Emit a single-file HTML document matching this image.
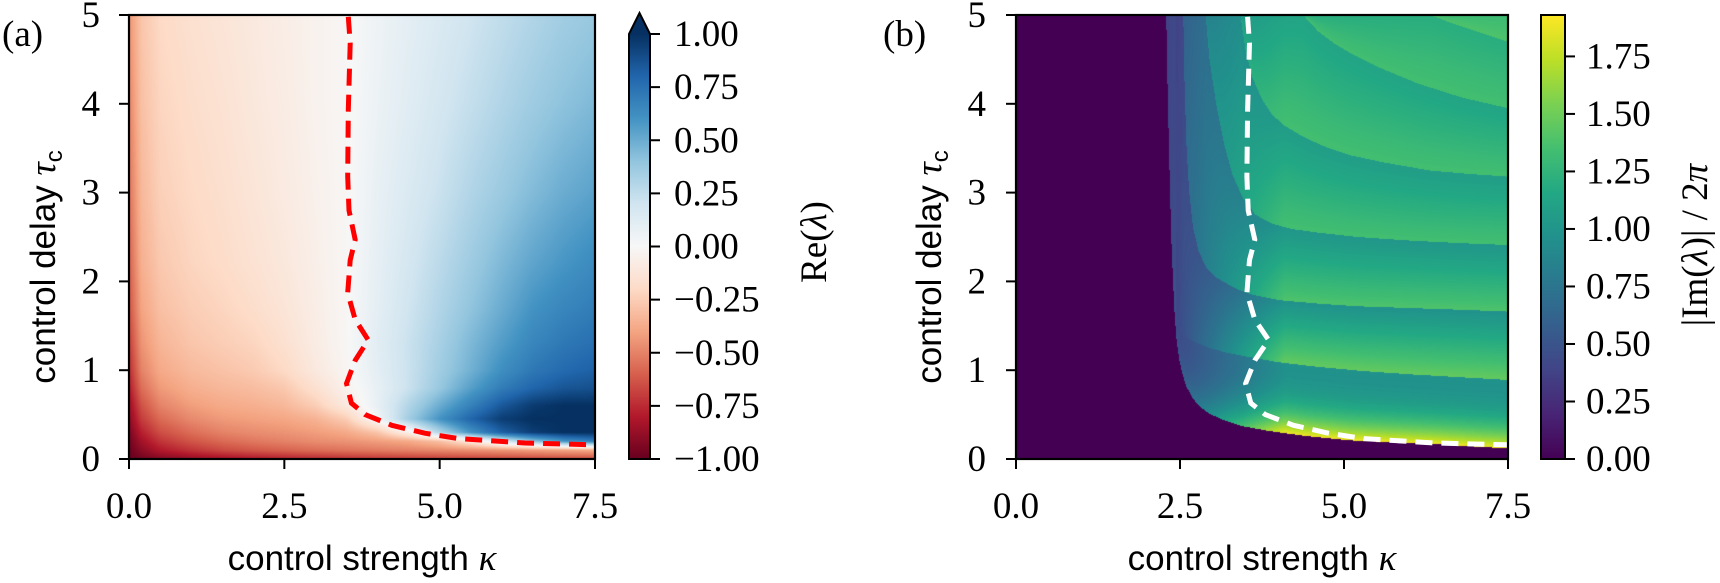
<!DOCTYPE html>
<html><head><meta charset="utf-8">
<style>
html,body{margin:0;padding:0;background:#fff;width:1720px;height:583px;overflow:hidden;position:relative}
canvas{position:absolute;display:block}
svg{position:absolute;left:0;top:0}
text{font-family:"Liberation Serif",serif;font-size:37px;fill:#000}
.sans{font-family:"Liberation Sans",sans-serif;font-size:35px}
</style></head>
<body>
<canvas id="heatA" width="466" height="444" style="left:129px;top:15px"></canvas>
<canvas id="heatB" width="492" height="444" style="left:1016px;top:15px"></canvas>
<svg id="ov" width="1720" height="583">
<defs>
<linearGradient id="gRdBu" x1="0" y1="1" x2="0" y2="0">
<stop offset="0" stop-color="#67001f"/><stop offset="0.1" stop-color="#b2182b"/><stop offset="0.2" stop-color="#d6604d"/><stop offset="0.3" stop-color="#f4a582"/><stop offset="0.4" stop-color="#fddbc7"/><stop offset="0.5" stop-color="#f7f7f7"/><stop offset="0.6" stop-color="#d1e5f0"/><stop offset="0.7" stop-color="#92c5de"/><stop offset="0.8" stop-color="#4393c3"/><stop offset="0.9" stop-color="#2166ac"/><stop offset="1" stop-color="#053061"/>
</linearGradient>
<linearGradient id="gVir" x1="0" y1="1" x2="0" y2="0">
<stop offset="0" stop-color="#440154"/><stop offset="0.1" stop-color="#482475"/><stop offset="0.2" stop-color="#414487"/><stop offset="0.3" stop-color="#355f8d"/><stop offset="0.4" stop-color="#2a788e"/><stop offset="0.5" stop-color="#21918c"/><stop offset="0.6" stop-color="#22a884"/><stop offset="0.7" stop-color="#44bf70"/><stop offset="0.8" stop-color="#7ad151"/><stop offset="0.9" stop-color="#bddf26"/><stop offset="1" stop-color="#fde725"/>
</linearGradient>
</defs>
<g id="gA"></g>
<g id="gB"></g>
</svg>
<script>
// ---------- shared data ----------
const xTicks = [0, 2.5, 5, 7.5];
const xTickLabels = ["0.0", "2.5", "5.0", "7.5"];
const yTicks = [0, 1, 2, 3, 4, 5];
const yTickLabels = ["0", "1", "2", "3", "4", "5"];
const boundaryKappa = [3.53,3.56,3.53,3.52,3.54,3.64,3.56,3.52,3.64,3.85,3.64,3.50,3.58,3.80,4.23,4.76,5.30,6.37,7.50];
const boundaryTau   = [4.98,4.68,3.93,3.18,2.80,2.47,2.24,1.87,1.57,1.34,1.11,0.85,0.63,0.50,0.38,0.29,0.23,0.18,0.16];

// ---------- panel (a) data: Re(lambda) grid ----------
const gridKappa = [0,0.2,0.5,1,1.5,2,2.5,3,3.5,4,4.5,5,5.5,6,6.5,7,7.5];
const gridTau = [0,0.1,0.2,0.3,0.45,0.6,0.8,1.0,1.3,1.7,2.2,3,4,5];
const reRow0   = [-1,-0.97,-0.93,-0.88,-0.84,-0.81,-0.78,-0.76,-0.74,-0.72,-0.71,-0.7,-0.69,-0.68,-0.67,-0.66,-0.66];
const reRow1   = [-0.99,-0.9,-0.8,-0.72,-0.66,-0.62,-0.59,-0.56,-0.54,-0.52,-0.5,-0.48,-0.46,-0.44,-0.42,-0.4,-0.38];
const reRow2   = [-0.97,-0.84,-0.72,-0.63,-0.57,-0.53,-0.5,-0.47,-0.45,-0.42,-0.38,-0.3,-0.12,0.15,0.4,0.6,0.7];
const reRow3   = [-0.95,-0.78,-0.65,-0.56,-0.5,-0.47,-0.45,-0.42,-0.38,-0.28,-0.05,0.3,0.6,0.82,0.95,1.0,1.0];
const reRow4   = [-0.9,-0.7,-0.57,-0.48,-0.43,-0.41,-0.39,-0.35,-0.25,0.03,0.35,0.6,0.8,0.95,1.0,1.0,1.0];
const reRow5   = [-0.86,-0.64,-0.5,-0.42,-0.38,-0.36,-0.33,-0.25,-0.1,0.08,0.3,0.5,0.68,0.85,0.96,1.0,1.0];
const reRow6   = [-0.8,-0.56,-0.43,-0.36,-0.33,-0.31,-0.27,-0.16,-0.04,0.08,0.22,0.38,0.55,0.7,0.8,0.86,0.88];
const reRow7   = [-0.75,-0.5,-0.38,-0.32,-0.29,-0.26,-0.2,-0.1,-0.02,0.1,0.22,0.35,0.48,0.62,0.72,0.78,0.82];
const reRow8   = [-0.7,-0.45,-0.34,-0.28,-0.25,-0.22,-0.16,-0.08,-0.01,0.11,0.22,0.33,0.45,0.56,0.66,0.72,0.76];
const reRow9   = [-0.64,-0.4,-0.3,-0.25,-0.22,-0.18,-0.13,-0.07,-0.01,0.1,0.2,0.3,0.4,0.5,0.6,0.66,0.7];
const reRow10  = [-0.6,-0.36,-0.27,-0.22,-0.19,-0.15,-0.11,-0.06,-0.01,0.09,0.18,0.27,0.36,0.45,0.53,0.59,0.64];
const reRow11  = [-0.55,-0.33,-0.24,-0.2,-0.17,-0.13,-0.09,-0.05,-0.01,0.08,0.15,0.22,0.3,0.37,0.44,0.5,0.54];
const reRow12  = [-0.5,-0.3,-0.22,-0.18,-0.15,-0.11,-0.08,-0.04,-0.01,0.06,0.12,0.18,0.24,0.3,0.36,0.41,0.45];
const reRow13  = [-0.45,-0.28,-0.2,-0.16,-0.13,-0.1,-0.07,-0.04,-0.01,0.05,0.1,0.15,0.2,0.25,0.3,0.35,0.38];
const cbarATicks = [-1,-0.75,-0.5,-0.25,0,0.25,0.5,0.75,1];
const cbarATickLabels = ["\u22121.00","\u22120.75","\u22120.50","\u22120.25","0.00","0.25","0.50","0.75","1.00"];

// ---------- panel (b) data: band edges of |Im(lambda)|/2pi ----------
const outerK = [2.29,2.31,2.33,2.35,2.37,2.40,2.42,2.45,2.49,2.54,2.60,2.70,2.80,2.95,3.16,3.45,3.82,4.4,5.09,5.7,6.36,7.0,7.5];
const outerT = [5.0,4.2,3.56,2.95,2.43,1.9,1.6,1.32,1.11,0.95,0.81,0.68,0.59,0.51,0.44,0.37,0.32,0.26,0.21,0.19,0.17,0.14,0.12];
const edge1K = [2.44,2.46,2.5,2.6,2.75,2.95,3.2,3.54,4.0,4.57,5.3,6.09,6.8,7.5];
const edge1T = [1.9,1.6,1.45,1.37,1.31,1.25,1.2,1.15,1.09,1.04,0.99,0.95,0.92,0.89];
const edge2K = [2.55,2.57,2.60,2.64,2.70,2.78,2.9,3.02,3.15,3.35,3.6,4.0,4.6,5.2,6,6.8,7.5];
const edge2T = [5.0,4.2,3.5,3.0,2.6,2.35,2.15,2.06,2.0,1.92,1.85,1.79,1.75,1.72,1.70,1.68,1.66];
const edge3K = [2.89,2.95,3.05,3.17,3.3,3.45,3.65,3.9,4.2,4.6,5.2,6,6.8,7.5];
const edge3T = [5.0,4.5,4.0,3.55,3.2,2.95,2.75,2.65,2.59,2.55,2.50,2.46,2.43,2.41];
const edge4K = [3.42,3.5,3.6,3.75,3.9,4.1,4.4,4.7,5.1,5.6,6.3,6.9,7.5];
const edge4T = [5.0,4.6,4.3,4.05,3.88,3.75,3.62,3.52,3.42,3.34,3.25,3.21,3.18];
const edge5K = [4.38,4.6,4.85,5.1,5.5,6.12,6.8,7.5];
const edge5T = [5.0,4.82,4.68,4.57,4.42,4.23,4.07,3.95];
const edge6K = [6.32,6.6,6.89,7.2,7.5];
const edge6T = [5.0,4.92,4.85,4.77,4.70];
const bandLeft     = [0.20,0.17,0.28,0.38,0.46,0.55,0.64];
const bandTopRight = [0.50,0.50,0.52,0.55,0.58,0.62,0.68];
const bandBotRight = [0.98,0.76,0.72,0.70,0.70,0.70,0.72];
const imMax = 1.93;
const cbarBTicks = [0,0.25,0.5,0.75,1,1.25,1.5,1.75];
const cbarBTickLabels = ["0.00","0.25","0.50","0.75","1.00","1.25","1.50","1.75"];

// ---------- helpers ----------
const RDBU = [[103,0,31],[178,24,43],[214,96,77],[244,165,130],[253,219,199],[247,247,247],[209,229,240],[146,197,222],[67,147,195],[33,102,172],[5,48,97]];
const VIR = [[68,1,84],[72,36,117],[65,68,135],[53,95,141],[42,120,142],[33,145,140],[34,168,132],[68,191,112],[122,209,81],[189,223,38],[253,231,37]];
function cmap(tab, f){ f=Math.max(0,Math.min(1,f)); const p=f*10; const i=Math.min(9,Math.floor(p)); const t=p-i; const a=tab[i], b=tab[i+1]; return [a[0]+(b[0]-a[0])*t, a[1]+(b[1]-a[1])*t, a[2]+(b[2]-a[2])*t]; }
function interpEdge(K,T,k){ if(k<K[0]) return Infinity; for(let i=0;i<K.length-1;i++){ if(k<=K[i+1]){ const t=(k-K[i])/(K[i+1]-K[i]); return T[i]+(T[i+1]-T[i])*t; } } return T[T.length-1]; }
function seg(arr,v){ for(let i=0;i<arr.length-1;i++){ if(v<=arr[i+1]) return i; } return arr.length-2; }
const NS="http://www.w3.org/2000/svg";
function mk(parent, tag, attrs, txt){ const e=document.createElementNS(NS,tag); for(const k in attrs) e.setAttribute(k,attrs[k]); if(txt!==undefined) e.textContent=txt; parent.appendChild(e); return e; }

// ---------- panel (a) heatmap ----------
(function(){
  const rows=[reRow0,reRow1,reRow2,reRow3,reRow4,reRow5,reRow6,reRow7,reRow8,reRow9,reRow10,reRow11,reRow12,reRow13];
  const c=document.getElementById('heatA'), ctx=c.getContext('2d'); const W=c.width,H=c.height;
  const img=ctx.createImageData(W,H);
  for(let py=0;py<H;py++){
    const tau=(H-py-0.5)/H*5; const j=seg(gridTau,tau); const tv=(tau-gridTau[j])/(gridTau[j+1]-gridTau[j]);
    for(let px=0;px<W;px++){
      const k=(px+0.5)/W*7.5; const i=seg(gridKappa,k); const tk=(k-gridKappa[i])/(gridKappa[i+1]-gridKappa[i]);
      const v0=rows[j][i]+(rows[j][i+1]-rows[j][i])*tk, v1=rows[j+1][i]+(rows[j+1][i+1]-rows[j+1][i])*tk;
      const v=v0+(v1-v0)*tv; const col=cmap(RDBU,(v+1)/2); const o=(py*W+px)*4;
      img.data[o]=col[0]; img.data[o+1]=col[1]; img.data[o+2]=col[2]; img.data[o+3]=255;
    }
  }
  ctx.putImageData(img,0,0);
})();

// ---------- panel (b) heatmap ----------
(function(){
  const edges=[[edge1K,edge1T],[edge2K,edge2T],[edge3K,edge3T],[edge4K,edge4T],[edge5K,edge5T],[edge6K,edge6T]];
  const c=document.getElementById('heatB'), ctx=c.getContext('2d'); const W=c.width,H=c.height;
  const img=ctx.createImageData(W,H);
  for(let px=0;px<W;px++){
    const k=(px+0.5)/W*7.5; const ot=interpEdge(outerK,outerT,k);
    const et=edges.map(e=>interpEdge(e[0],e[1],k));
    const h=Math.max(0,Math.min(1,(k-2.3)/1.8));
    for(let py=0;py<H;py++){
      const tau=(H-py-0.5)/H*5; let f;
      if(tau<ot){ f=0; }
      else {
        let b=0; while(b<6 && tau>=et[b]) b++;
        const lower = b===0?ot:et[b-1];
        const upper = b<6?Math.min(5,et[b]):5;
        let fr = upper>lower ? (upper-tau)/(upper-lower) : 0; fr=Math.max(0,Math.min(1,fr));
        if(b===0) fr=Math.pow(fr,2.5);
        const top=bandLeft[b]+(bandTopRight[b]-bandLeft[b])*h, bot=bandLeft[b]+(bandBotRight[b]-bandLeft[b])*h;
        f=top+(bot-top)*fr;
      }
      const col=cmap(VIR,f); const o=(py*W+px)*4;
      img.data[o]=col[0]; img.data[o+1]=col[1]; img.data[o+2]=col[2]; img.data[o+3]=255;
    }
  }
  ctx.putImageData(img,0,0);
})();

// ---------- axes ----------
function drawPanel(g, X0, X1, Y0, Y1, dashColor, ylabX, ylblRight, letter, letterX){
  const xs=k=>X0+k/7.5*(X1-X0), ys=t=>Y1-t/5*(Y1-Y0);
  let d=''; for(let i=0;i<boundaryKappa.length;i++){ d+=(i?'L':'M')+xs(boundaryKappa[i]).toFixed(1)+' '+ys(boundaryTau[i]).toFixed(1); }
  const bl=mk(g,'path',{d:d,fill:'none',stroke:dashColor,'stroke-width':5,'stroke-dasharray':'17 9'});
  
  
  const fr=mk(g,'rect',{x:X0,y:Y0,width:X1-X0,height:Y1-Y0,fill:'none',stroke:'#000','stroke-width':2.2});
  
  
  for(let i=0;i<xTicks.length;i++){
    const x=xs(xTicks[i]);
    mk(g,'line',{x1:x,x2:x,y1:Y1,y2:Y1+10,stroke:'#000','stroke-width':2});
    const t=mk(g,'text',{x:x,y:518,'text-anchor':'middle'},xTickLabels[i]);
    
    
  }
  for(let i=0;i<yTicks.length;i++){
    const y=ys(yTicks[i]);
    mk(g,'line',{x1:X0-10,x2:X0,y1:y,y2:y,stroke:'#000','stroke-width':2});
    const t=mk(g,'text',{x:ylblRight,y:y+12,'text-anchor':'end'},yTickLabels[i]);
    
    
  }
  const xl=mk(g,'text',{x:(X0+X1)/2,y:570,'text-anchor':'middle',class:'sans'});
  
  
  mk(xl,'tspan',{},'control strength ');
  mk(xl,'tspan',{'font-family':'Liberation Serif, serif','font-style':'italic','font-size':'37'},'\u03BA');
  const yl=mk(g,'text',{x:0,y:0,'text-anchor':'middle',class:'sans',transform:'translate('+(ylabX+12)+',267) rotate(-90)'});
  
  
  mk(yl,'tspan',{},'control delay ');
  mk(yl,'tspan',{'font-family':'Liberation Serif, serif','font-style':'italic','font-size':'37'},'\u03C4');
  mk(yl,'tspan',{'font-family':'Liberation Sans, sans-serif','font-size':'24',dy:'7'},'c');
  const pl=mk(g,'text',{x:letterX,y:46},letter);
  
  
}
const gA=document.getElementById('gA'), gB=document.getElementById('gB');
drawPanel(gA,129,595,15,459,'#ff0000',43,100,'(a)',2);
drawPanel(gB,1016,1508,15,459,'#ffffff',929,986,'(b)',883);

// ---------- colorbar (a) ----------
(function(){
  const x0=629,x1=650,y0=34,y1=459;
  const cy=v=>y1-(v+1)/2*(y1-y0);
  const r=mk(gA,'rect',{x:x0,y:y0,width:x1-x0,height:y1-y0,fill:'url(#gRdBu)'});
  
  
  const ar=mk(gA,'path',{d:`M${x0} ${y0+1}L${(x0+x1)/2} 13L${x1} ${y0+1}Z`,fill:'#053061'});
  
  
  mk(gA,'path',{d:`M${x0} ${y1}L${x0} ${y0}L${(x0+x1)/2} 13L${x1} ${y0}L${x1} ${y1}Z`,fill:'none',stroke:'#000','stroke-width':2});
  for(let i=0;i<cbarATicks.length;i++){
    const y=cy(cbarATicks[i]);
    mk(gA,'line',{x1:x1,x2:x1+10,y1:y,y2:y,stroke:'#000','stroke-width':2});
    const t=mk(gA,'text',{x:674,y:y+12},cbarATickLabels[i]);
    
    
  }
  const l=mk(gA,'text',{x:0,y:0,'text-anchor':'middle',transform:'translate(826,242) rotate(-90)'});
  
  
  mk(l,'tspan',{},'Re(');
  mk(l,'tspan',{'font-style':'italic'},'\u03BB');
  mk(l,'tspan',{},')');
})();

// ---------- colorbar (b) ----------
(function(){
  const x0=1541,x1=1565,y0=15,y1=459;
  const cy=v=>y1-v/imMax*(y1-y0);
  const r=mk(gB,'rect',{x:x0,y:y0,width:x1-x0,height:y1-y0,fill:'url(#gVir)',stroke:'#000','stroke-width':2});
  
  
  for(let i=0;i<cbarBTicks.length;i++){
    const y=cy(cbarBTicks[i]);
    mk(gB,'line',{x1:x1,x2:x1+10,y1:y,y2:y,stroke:'#000','stroke-width':2});
    const t=mk(gB,'text',{x:1586,y:y+12},cbarBTickLabels[i]);
    
    
  }
  const l=mk(gB,'text',{x:0,y:0,'text-anchor':'middle',transform:'translate(1707,245) rotate(-90)'});
  
  
  mk(l,'tspan',{},'|Im(');
  mk(l,'tspan',{'font-style':'italic'},'\u03BB');
  mk(l,'tspan',{},')| / 2');
  mk(l,'tspan',{'font-style':'italic'},'\u03C0');
})();
</script>
</body></html>
